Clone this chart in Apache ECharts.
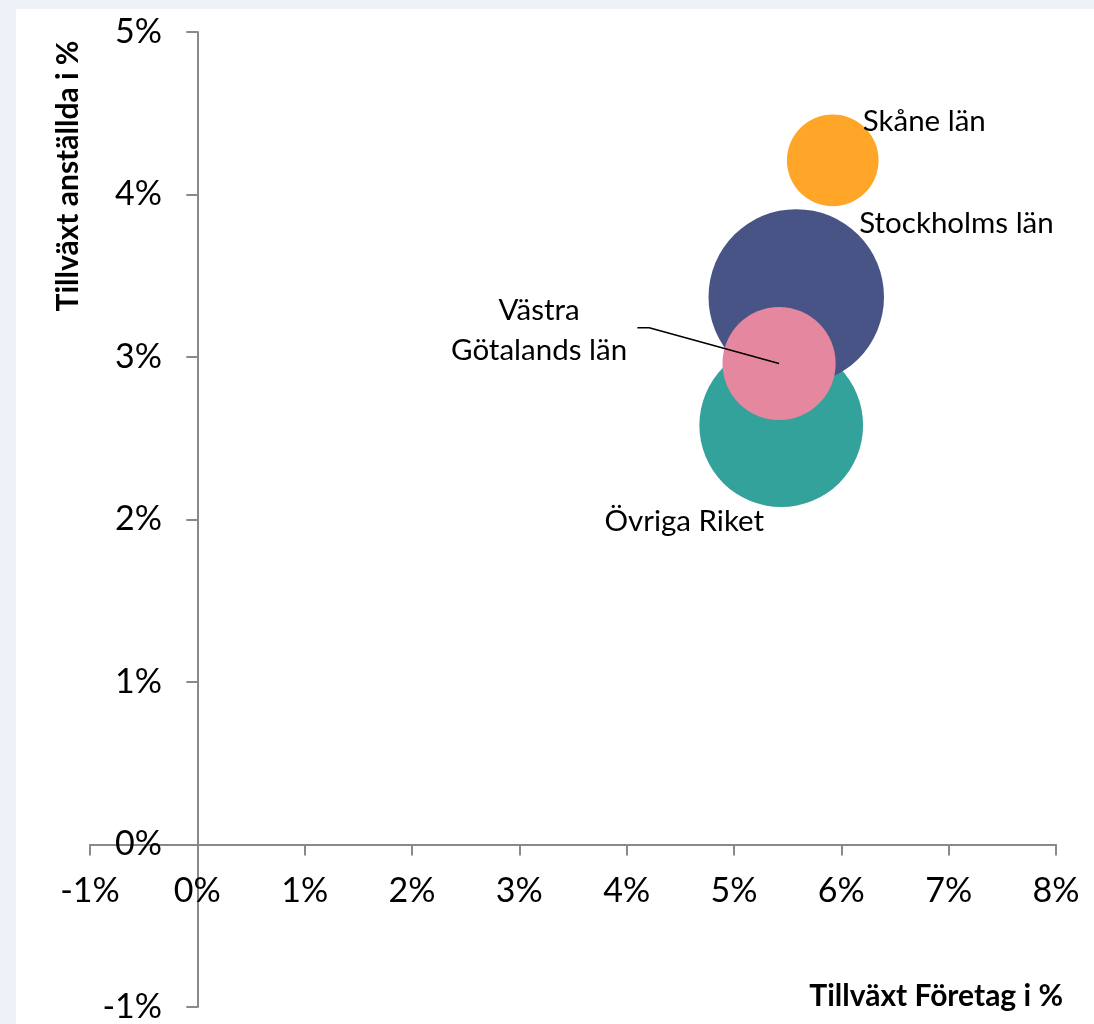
<!DOCTYPE html>
<html>
<head>
<meta charset="utf-8">
<script src="https://cdn.jsdelivr.net/npm/echarts@6/dist/echarts.min.js"></script>
<style>
html, body { margin: 0; padding: 0; background: #eef2f8; }
#chart { position: absolute; left: 16px; top: 9px; width: 1078px; height: 1015px; background: #ffffff; }
</style>
</head>
<body>
<div id="chart"></div>
<script>
// regions, in draw order (back to front)
var regions = ['Övriga Riket', 'Stockholms län', 'Skåne län', 'Västra Götalands län'];
var growthFirms = [5.44, 5.58, 5.92, 5.42];      // x, %
var growthEmployees = [2.58, 3.37, 4.21, 2.96];  // y, %
var bubbleSize = [67, 77, 21, 32];               // relative bubble area
var colors = ['#33a29b', '#485486', '#ffa628', '#e4879f'];

// leader line from the Västra Götaland label to its bubble
var leaderX = [4.10, 4.21];
var leaderY = [3.18, 3.18];

var xTicks = { min: -1, max: 8, interval: 1 };
var yTicks = { min: -1, max: 5, interval: 1 };

var FONT = 'Lato';

// label placement per region: offset from bubble centre
var labelCfg = [
    { offset: [-97, 96], align: 'center', text: 'Övriga Riket' },
    { offset: [63, -73], align: 'left', text: 'Stockholms län' },
    { offset: [30, -39], align: 'left', text: 'Skåne län' },
    { offset: [-240, -33], align: 'center', text: 'Västra\nGötalands län' }
];

var myc = echarts.init(document.getElementById('chart'));

var series = regions.map(function (name, i) {
    return {
        name: name,
        type: 'scatter',
        data: [[growthFirms[i], growthEmployees[i], bubbleSize[i]]],
        symbolSize: function (v) {
            return Math.sqrt(v[2]) * 20;
        },
        itemStyle: { color: colors[i], opacity: 1 },
        label: {
            show: true,
            position: 'inside',
            offset: labelCfg[i].offset,
            align: labelCfg[i].align,
            verticalAlign: 'middle',
            formatter: labelCfg[i].text,
            color: '#000',
            fontFamily: FONT,
            fontSize: 29.5,
            lineHeight: 40
        },
        z: 2 + i
    };
});

var vg = regions.length - 1;
series.push({
    type: 'line',
    data: [
        [leaderX[0], leaderY[0]],
        [leaderX[1], leaderY[1]],
        [growthFirms[vg], growthEmployees[vg]]
    ],
    symbol: 'none',
    silent: true,
    lineStyle: { color: '#000', width: 1.6 },
    z: 20
});

var axisCommon = {
    type: 'value',
    splitLine: { show: false },
    axisLine: { show: true, onZero: true, lineStyle: { color: '#898989', width: 2 } },
    axisTick: { show: true, length: 11, lineStyle: { color: '#898989', width: 2 } },
    axisLabel: {
        formatter: '{value}%',
        color: '#000',
        fontFamily: FONT,
        fontSize: 34
    }
};

var options = {
    animation: false,
    grid: { left: 74, right: 38, top: 23, bottom: 17, containLabel: false, outerBoundsMode: 'none' },
    xAxis: Object.assign({}, axisCommon, {
        min: xTicks.min, max: xTicks.max, interval: xTicks.interval,
        // labels sit just below the zero line, not at the grid bottom
        axisLabel: Object.assign({}, axisCommon.axisLabel, { margin: -133 })
    }),
    yAxis: Object.assign({}, axisCommon, {
        min: yTicks.min, max: yTicks.max, interval: yTicks.interval,
        axisLabel: Object.assign({}, axisCommon.axisLabel, { margin: -72 })
    }),
    graphic: [
        {
            type: 'text',
            x: 52, y: 167,
            rotation: Math.PI / 2,
            style: {
                text: 'Tillväxt anställda i %',
                fontFamily: FONT, fontSize: 30, fontWeight: 'bold',
                fill: '#000', align: 'center', verticalAlign: 'middle'
            }
        },
        {
            type: 'text',
            x: 1047, y: 987,
            style: {
                text: 'Tillväxt Företag i %',
                fontFamily: FONT, fontSize: 30, fontWeight: 'bold',
                fill: '#000', align: 'right', verticalAlign: 'middle'
            }
        }
    ],
    series: series
};

myc.setOption(options);
</script>
</body>
</html>
